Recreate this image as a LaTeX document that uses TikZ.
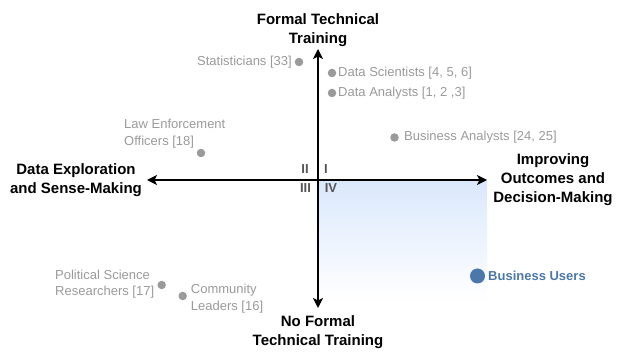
\documentclass[tikz,border=0pt]{standalone}
\usepackage{fontspec}
\setmainfont{Liberation Sans}
\usetikzlibrary{arrows.meta}
\definecolor{lblgray}{HTML}{9A9A9A}
\definecolor{dotgray}{HTML}{9A9A9A}
\definecolor{quadgray}{HTML}{555555}
\definecolor{userblue}{HTML}{4A78AA}
\definecolor{quadshade}{HTML}{DAE8FC}
\begin{document}
\begin{tikzpicture}[x=1pt,y=-1pt,
  axislbl/.style={font=\fontsize{15}{19}\selectfont\bfseries, align=center, inner sep=0pt},
  grplbl/.style={font=\fontsize{13}{16.7}\selectfont, text=lblgray, inner sep=0pt, align=left},
  grpdot/.style={circle, fill=dotgray, minimum size=8.5pt, inner sep=0pt},
  quadlbl/.style={font=\fontsize{13}{15}\selectfont\bfseries, text=quadgray, inner sep=0pt},
  axisline/.style={line width=1.5pt, {Stealth[length=10pt,width=10pt,inset=2.5pt]}-{Stealth[length=10pt,width=10pt,inset=2.5pt]}}]
\useasboundingbox (0,0) rectangle (622,352);
\shade[top color=quadshade, bottom color=white] (318,180) rectangle (487,300);
% axis end points
\coordinate (top) at (318,49);
\coordinate (bottom) at (318,308);
\coordinate (left) at (147,180);
\coordinate (right) at (487,180);
\draw[axisline] (bottom) -- (top);
\draw[axisline] (left) -- (right);
% axis labels
\node[axislbl] (ltop) at (318,30) {Formal Technical\\Training};
\node[axislbl] (lbottom) at (318,332) {No Formal\\Technical Training};
\node[axislbl] (lleft) at (76,180.5) {Data Exploration\\and Sense-Making};
\node[axislbl] (lright) at (553,180) {Improving\\Outcomes and\\Decision-Making};
% quadrant labels
\node[quadlbl] (q2) at (305,169) {II};
\node[quadlbl] (q1) at (326,169) {I};
\node[quadlbl] (q3) at (305.5,188.5) {III};
\node[quadlbl] (q4) at (331,188.5) {IV};
% groups
\node[grpdot] (dstat) at (299,62) {};
\node[grplbl, anchor=east] (tstat) at (292,62) {Statisticians [33]};
\node[grpdot] (dsci) at (332,73) {};
\node[grplbl, anchor=west] (tsci) at (338,73) {Data Scientists [4, 5, 6]};
\node[grpdot] (dana) at (332,93) {};
\node[grplbl, anchor=west] (tana) at (338,93) {Data Analysts [1, 2 ,3]};
\node[grpdot] (dlaw) at (201,153) {};
\node[grplbl, anchor=west] (tlaw) at (124,133.5) {Law Enforcement\\Officers [18]};
\node[grpdot] (dbiz) at (394.5,137.5) {};
\node[grplbl, anchor=west] (tbiz) at (404,137.5) {Business Analysts [24, 25]};
\node[grpdot] (dpol) at (161.7,285) {};
\node[grplbl, anchor=west] (tpol) at (55,284) {Political Science\\Researchers [17]};
\node[grpdot] (dcom) at (182.7,296) {};
\node[grplbl, anchor=west] (tcom) at (190.7,298.5) {Community\\Leaders [16]};
% business users
\node[circle, fill=userblue, minimum size=15pt, inner sep=0pt] (duser) at (477.5,276) {};
\node[font=\fontsize{13}{15}\selectfont\bfseries, text=userblue, inner sep=0pt, anchor=west] (tuser) at (488,276) {Business Users};
\end{tikzpicture}
\end{document}
